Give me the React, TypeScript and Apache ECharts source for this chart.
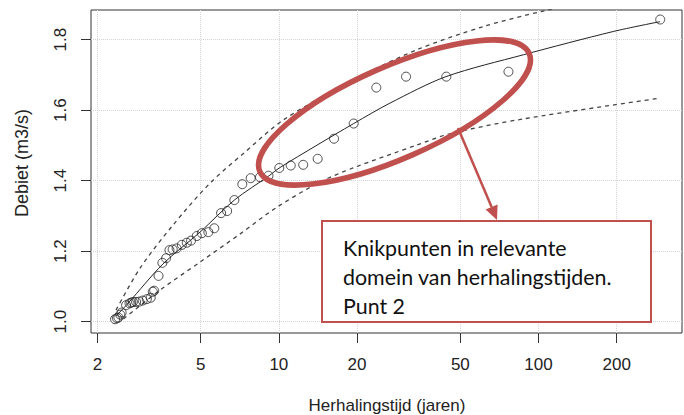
import React, { useEffect, useRef } from "react";
import * as echarts from "echarts";

// Axis ticks
const xTicks = [2, 5, 10, 20, 50, 100, 200];
const yTicks = [1.0, 1.2, 1.4, 1.6, 1.8];

// Observations: return period (years) and discharge (m3/s)
const obsT = [
  2.34, 2.38, 2.41, 2.45, 2.48, 2.58, 2.66, 2.7, 2.74, 2.82, 2.9, 2.99, 3.1, 3.21, 3.27, 3.31,
  3.44, 3.56, 3.68, 3.79, 3.9, 4.04, 4.23, 4.42, 4.59, 4.83, 5.05, 5.35, 5.64, 5.99, 6.32, 6.74,
  7.23, 7.79, 8.46, 9.12, 10.04, 11.11, 12.41, 14.11, 16.31, 19.42, 23.73, 30.89, 44.15, 76.6, 294.3,
];
const obsQ = [
  1.007, 1.01, 1.012, 1.02, 1.026, 1.047, 1.052, 1.054, 1.056, 1.056, 1.057, 1.06, 1.064, 1.068, 1.085, 1.088,
  1.13, 1.167, 1.18, 1.203, 1.205, 1.208, 1.218, 1.224, 1.23, 1.243, 1.251, 1.254, 1.265, 1.308, 1.314, 1.345,
  1.39, 1.407, 1.41, 1.414, 1.436, 1.443, 1.445, 1.462, 1.519, 1.562, 1.664, 1.695, 1.695, 1.709, 1.857,
];

// Fitted curve
const fitT = [2.36, 2.63, 3.58, 4.97, 6.74, 9.17, 10.04, 13.9, 19.42, 26.8, 44.0, 87.4, 194, 294];
const fitQ = [1.016, 1.053, 1.164, 1.254, 1.345, 1.414, 1.436, 1.499, 1.562, 1.62, 1.695, 1.757, 1.823, 1.851];

// Confidence bands
const upperT = [2.36, 2.92, 3.91, 5.43, 7.41, 10.4, 18.8, 33.96, 61.3, 104.3, 200, 294];
const upperQ = [1.033, 1.152, 1.274, 1.393, 1.481, 1.572, 1.681, 1.771, 1.837, 1.881, 1.925, 1.948];
const lowerT = [2.52, 3.49, 4.97, 7.09, 9.84, 14.4, 19.3, 34.0, 45.6, 87.2, 293.7];
const lowerQ = [1.008, 1.09, 1.169, 1.249, 1.325, 1.396, 1.436, 1.501, 1.533, 1.575, 1.634];

const xTitle = "Herhalingstijd (jaren)";
const yTitle = "Debiet (m3/s)";
const calloutLines = ["Knikpunten in relevante", "domein van herhalingstijden.", "Punt 2"];

const lg = (v: number) => Math.log10(v);
const pairs = (t: number[], q: number[]) => t.map((v, i) => [lg(v), q[i]]);

const RED = "#c0504d";
const FONT = "Liberation Sans, Arial, sans-serif";

export default function App() {
  const ref = useRef<HTMLDivElement>(null);
  useEffect(() => {
    const chart = echarts.init(ref.current!, null, { renderer: "svg" });
    const splitLine = { show: true, lineStyle: { color: "#d4d4d4", type: "dotted", width: 1 } };
    chart.setOption({
      animation: false,
      backgroundColor: "#fff",
      grid: {
        left: 91, right: 2, top: 10, bottom: 82, show: true,
        borderColor: "#333", borderWidth: 1, backgroundColor: "transparent",
        containLabel: false, outerBoundsMode: "none",
      },
      xAxis: {
        type: "value", min: lg(1.89), max: lg(357),
        axisLine: { show: false },
        axisTick: { show: true, customValues: xTicks.map(lg), length: 10, lineStyle: { color: "#333" } },
        axisLabel: {
          customValues: xTicks.map(lg),
          formatter: (v: number) => String(Math.round(Math.pow(10, v))),
          margin: 23, fontSize: 17, color: "#222", fontFamily: FONT,
        },
        splitLine,
      },
      yAxis: {
        type: "value", min: 0.968, max: 1.884,
        axisLine: { show: false },
        axisTick: { show: true, customValues: yTicks, length: 10, lineStyle: { color: "#333" } },
        axisLabel: {
          customValues: yTicks, rotate: 90,
          formatter: (v: number) => v.toFixed(1),
          margin: 22, fontSize: 17, color: "#222", fontFamily: FONT,
        },
        splitLine,
      },
      series: [
        {
          type: "line", data: pairs(upperT, upperQ), showSymbol: false, symbol: "none", smooth: 0.3,
          lineStyle: { color: "#444", width: 1.3, type: [4, 4] }, z: 2, silent: true,
        },
        {
          type: "line", data: pairs(lowerT, lowerQ), showSymbol: false, symbol: "none", smooth: 0.3,
          lineStyle: { color: "#444", width: 1.3, type: [4, 4] }, z: 2, silent: true,
        },
        {
          type: "line", data: pairs(fitT, fitQ), showSymbol: false, symbol: "none", smooth: 0.3,
          lineStyle: { color: "#222", width: 1 }, z: 2, silent: true,
        },
        {
          type: "scatter", data: pairs(obsT, obsQ), symbol: "circle", symbolSize: 9,
          itemStyle: { color: "rgba(0,0,0,0)", borderColor: "#222", borderWidth: 1 }, z: 3, silent: true,
        },
      ],
      graphic: [
        {
          type: "text", x: 387, y: 405, z: 50,
          style: { text: xTitle, fontSize: 17, fontFamily: FONT, fill: "#222", align: "center", verticalAlign: "middle" },
        },
        {
          type: "text", x: 22, y: 163, rotation: Math.PI / 2, z: 50,
          style: { text: yTitle, fontSize: 18, fontFamily: FONT, fill: "#222", align: "center", verticalAlign: "middle" },
        },
        {
          type: "ellipse", x: 394.5, y: 112.5, rotation: 0.414, z: 100,
          shape: { cx: 0, cy: 0, rx: 147, ry: 46 },
          style: { fill: "none", stroke: RED, lineWidth: 5.5 },
        },
        {
          type: "line", z: 100,
          shape: { x1: 458, y1: 128, x2: 491.6, y2: 207.1 },
          style: { stroke: RED, lineWidth: 2.5 },
        },
        {
          type: "polygon", z: 100,
          shape: { points: [[497, 220], [497.6, 204.6], [485.6, 209.6]] },
          style: { fill: RED },
        },
        {
          type: "rect", z: 100,
          shape: { x: 322, y: 221, width: 329, height: 101 },
          style: { fill: "#fff", stroke: RED, lineWidth: 2 },
        },
        ...calloutLines.map((t, i) => ({
          type: "text", x: 343, y: 247.5 + i * 29, z: 101,
          style: { text: t, fontSize: 21.4, fontFamily: "Lato, sans-serif", fill: "#111", align: "left", verticalAlign: "middle" },
        })),
      ],
    });
    return () => chart.dispose();
  }, []);
  return (
    <div
      ref={ref}
      style={{ position: "absolute", left: 0, top: 0, width: 684, height: 415, background: "#fff" }}
    />
  );
}
